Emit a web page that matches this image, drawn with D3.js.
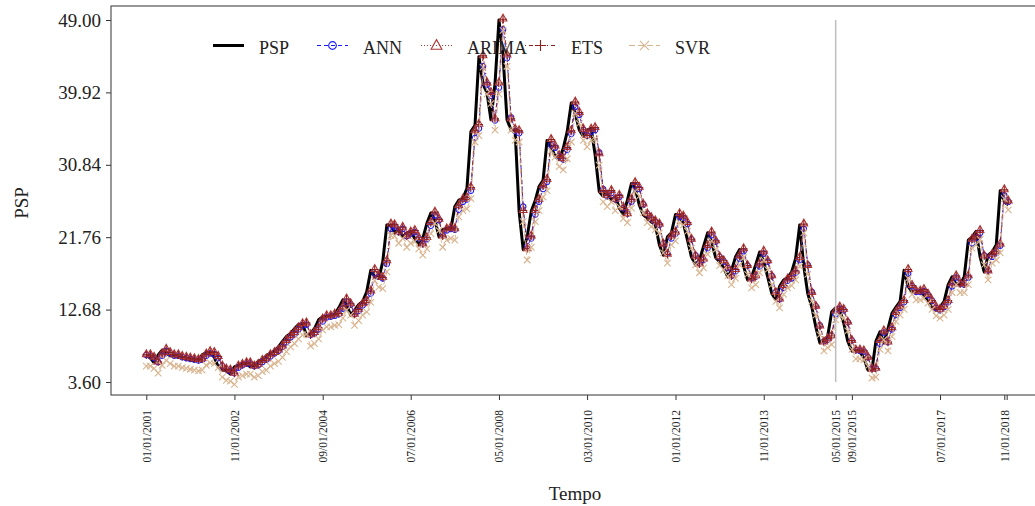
<!DOCTYPE html>
<html><head><meta charset="utf-8">
<script src="https://cdn.jsdelivr.net/npm/d3@7"></script>
<style>body{margin:0;background:#fff;} svg{display:block;}</style>
</head><body>
<script>
// ---------- DATA ----------
const startMonth = "2001-01";   // first monthly observation
const nMonths = 216;            // 01/2001 .. 12/2018

const PSP = [
6.9,6.6,6.0,7.0,7.6,7.2,6.9,6.9,6.7,6.6,6.5,6.4,
6.3,6.4,7.0,7.3,7.2,6.7,5.5,5.1,5.0,4.6,5.5,5.7,
5.9,5.9,5.5,5.7,6.2,6.4,6.9,7.2,7.5,8.0,8.7,9.3,
9.7,10.3,10.8,10.9,9.4,9.7,10.3,11.4,11.8,11.8,12.0,12.1,
12.9,13.9,13.3,12.0,12.6,13.3,13.7,14.9,17.6,16.8,16.6,18.7,
23.3,23.2,22.3,22.9,21.8,22.3,22.5,21.6,20.8,21.6,23.5,24.8,
23.9,21.8,22.7,22.9,22.7,25.6,26.4,26.6,27.9,35.0,35.8,44.4,
41.0,39.8,36.5,41.0,49.0,44.5,36.5,35.2,35.0,25.0,20.2,21.8,
25.0,26.4,28.1,28.9,33.9,33.1,31.9,31.5,32.9,35.0,38.6,37.3,
35.2,34.4,35.2,35.4,32.1,27.5,26.9,27.5,26.4,26.9,25.4,24.6,
26.4,28.5,27.9,25.8,24.6,24.1,23.7,23.3,20.8,19.5,21.8,22.3,
24.6,24.3,23.5,21.4,19.3,18.3,18.9,20.6,22.3,21.2,19.2,18.7,
17.9,16.8,17.6,19.3,20.2,18.1,16.4,16.8,18.3,19.9,18.7,16.8,
14.7,13.9,15.6,16.4,16.7,17.4,19.1,23.3,18.1,14.7,13.0,10.5,
8.5,8.9,9.3,12.4,12.9,12.6,11.0,8.7,7.5,7.5,7.4,6.6,
5.1,5.2,8.7,9.9,8.5,10.3,12.2,13.0,13.7,17.6,15.6,14.9,
14.9,15.1,14.5,13.7,12.9,12.6,13.0,13.7,15.8,16.8,15.8,15.8,
16.8,21.4,21.8,22.5,19.3,17.4,19.5,19.9,20.8,27.6,26.2,25.8];

const ANN = [
7.0,6.9,6.6,6.1,6.9,7.5,7.2,6.9,6.9,6.7,6.6,6.5,
6.4,6.3,6.4,6.9,7.2,7.1,6.6,5.6,5.2,5.0,4.7,5.4,
5.7,5.9,5.9,5.6,5.7,6.1,6.4,6.8,7.2,7.5,8.0,8.6,
9.2,9.6,10.2,10.7,10.8,9.5,9.7,10.2,11.2,11.7,11.8,11.9,
12.1,12.8,13.7,13.3,12.1,12.5,13.2,13.6,14.7,17.2,16.8,16.6,
18.4,22.8,23.1,22.4,22.8,21.9,22.2,22.4,21.6,20.9,21.5,23.2,
24.5,23.9,22.0,22.6,22.8,22.7,25.2,26.2,26.5,27.6,34.2,35.4,
43.2,40.9,39.5,36.4,40.5,47.8,44.2,36.8,35.1,34.8,25.6,20.6,
21.6,24.6,26.2,27.8,28.7,33.3,33.0,31.9,31.5,32.7,34.7,38.1,
37.1,35.2,34.5,35.0,35.2,32.4,27.8,26.9,27.3,26.5,26.8,25.4,
24.7,26.2,28.2,27.8,25.9,24.7,24.1,23.7,23.3,21.0,19.7,21.6,
22.2,24.3,24.2,23.4,21.5,19.5,18.5,18.9,20.4,22.0,21.2,19.3,
18.7,17.9,16.9,17.5,19.1,20.0,18.2,16.6,16.8,18.1,19.7,18.7,
16.9,14.9,14.0,15.4,16.3,16.6,17.3,18.9,22.8,18.3,14.9,13.1,
10.7,8.7,8.9,9.4,12.1,12.8,12.6,11.1,8.8,7.6,7.5,7.4,
6.7,5.3,5.3,8.4,9.8,8.6,10.2,12.0,12.9,13.6,17.2,15.6,
14.9,14.9,15.0,14.5,13.8,12.9,12.6,13.0,13.6,15.6,16.7,15.9,
15.8,16.7,21.0,21.7,22.3,19.5,17.6,19.3,19.8,20.7,27.0,26.2];

const ARIMA = [
7.1,7.1,6.8,6.2,7.2,7.8,7.4,7.1,7.1,6.9,6.8,6.7,
6.6,6.5,6.6,7.2,7.5,7.4,6.9,5.7,5.3,5.2,4.8,5.7,
5.9,6.1,6.1,5.7,5.9,6.4,6.6,7.1,7.4,7.7,8.2,8.9,
9.5,9.9,10.5,11.0,11.1,9.6,9.9,10.5,11.6,12.0,12.0,12.2,
12.3,13.1,14.1,13.5,12.2,12.8,13.5,13.9,15.1,17.8,17.0,16.8,
18.9,23.5,23.4,22.5,23.1,22.0,22.5,22.7,21.8,21.0,21.8,23.7,
25.0,24.1,22.0,22.9,23.1,22.9,25.8,26.6,26.8,28.1,35.2,36.0,
44.6,41.2,40.0,36.7,41.2,49.2,44.7,36.7,35.4,35.2,25.2,20.4,
22.0,25.2,26.6,28.3,29.1,34.1,33.3,32.1,31.7,33.1,35.2,38.8,
37.5,35.4,34.6,35.4,35.6,32.3,27.7,27.1,27.7,26.6,27.1,25.6,
24.8,26.6,28.7,28.1,26.0,24.8,24.3,23.9,23.5,21.0,19.7,22.0,
22.5,24.8,24.5,23.7,21.6,19.5,18.5,19.1,20.8,22.5,21.4,19.4,
18.9,18.1,17.0,17.8,19.5,20.4,18.3,16.6,17.0,18.5,20.1,18.9,
17.0,14.9,14.1,15.8,16.6,16.9,17.6,19.3,23.5,18.3,14.9,13.2,
10.7,8.7,9.1,9.5,12.6,13.1,12.8,11.2,8.9,7.7,7.7,7.6,
6.8,5.3,5.4,8.9,10.1,8.7,10.5,12.4,13.2,13.9,17.8,15.8,
15.1,15.1,15.3,14.7,13.9,13.1,12.8,13.2,13.9,16.0,17.0,16.0,
16.0,17.0,21.6,22.0,22.7,19.5,17.6,19.7,20.1,21.0,27.8,26.4];

const ETS = [
7.0,7.0,6.7,6.1,7.1,7.7,7.3,7.0,7.0,6.8,6.7,6.6,
6.5,6.4,6.5,7.1,7.4,7.3,6.8,5.6,5.2,5.1,4.7,5.6,
5.8,6.0,6.0,5.6,5.8,6.3,6.5,7.0,7.3,7.6,8.1,8.8,
9.4,9.8,10.4,10.9,11.0,9.5,9.8,10.4,11.5,11.9,11.9,12.1,
12.2,13.0,14.0,13.4,12.1,12.7,13.4,13.8,15.0,17.7,16.9,16.7,
18.8,23.4,23.3,22.4,23.0,21.9,22.4,22.6,21.7,20.9,21.7,23.6,
24.9,24.0,21.9,22.8,23.0,22.8,25.7,26.5,26.7,28.0,35.1,35.9,
44.5,41.1,39.9,36.6,41.1,49.1,44.6,36.6,35.3,35.1,25.1,20.3,
21.9,25.1,26.5,28.2,29.0,34.0,33.2,32.0,31.6,33.0,35.1,38.7,
37.4,35.3,34.5,35.3,35.5,32.2,27.6,27.0,27.6,26.5,27.0,25.5,
24.7,26.5,28.6,28.0,25.9,24.7,24.2,23.8,23.4,20.9,19.6,21.9,
22.4,24.7,24.4,23.6,21.5,19.4,18.4,19.0,20.7,22.4,21.3,19.3,
18.8,18.0,16.9,17.7,19.4,20.3,18.2,16.5,16.9,18.4,20.0,18.8,
16.9,14.8,14.0,15.7,16.5,16.8,17.5,19.2,23.4,18.2,14.8,13.1,
10.6,8.6,9.0,9.4,12.5,13.0,12.7,11.1,8.8,7.6,7.6,7.5,
6.7,5.2,5.3,8.8,10.0,8.6,10.4,12.3,13.1,13.8,17.7,15.7,
15.0,15.0,15.2,14.6,13.8,13.0,12.7,13.1,13.8,15.9,16.9,15.9,
15.9,16.9,21.5,21.9,22.6,19.4,17.5,19.6,20.0,20.9,27.7,26.3];

const SVR = [
5.6,5.6,5.3,4.7,5.7,6.3,5.9,5.6,5.6,5.4,5.3,5.2,
5.1,5.0,5.1,5.7,6.0,5.9,5.4,4.2,3.8,3.7,3.3,4.2,
4.4,4.6,4.6,4.2,4.4,4.9,5.1,5.6,5.9,6.2,6.7,7.4,
8.0,8.4,9.0,9.5,9.6,8.1,8.4,9.0,10.1,10.5,10.5,10.7,
10.8,11.6,12.6,12.0,10.7,11.3,12.0,12.4,13.6,16.3,15.5,15.3,
17.4,22.0,21.9,21.0,21.6,20.5,21.0,21.2,20.3,19.5,20.3,22.2,
23.5,22.6,20.5,21.4,21.6,21.4,24.3,25.1,25.3,26.6,33.7,34.5,
43.1,39.7,38.5,35.2,39.7,47.7,43.2,35.2,33.9,33.7,23.7,18.9,
20.5,23.7,25.1,26.8,27.6,32.6,31.8,30.6,30.2,31.6,33.7,37.3,
36.0,33.9,33.1,33.9,34.1,30.8,26.2,25.6,26.2,25.1,25.6,24.1,
23.6,25.4,27.5,26.9,24.8,23.6,23.1,22.7,22.3,19.8,18.5,20.8,
21.3,23.6,23.3,22.5,20.4,18.3,17.3,17.9,19.6,21.3,20.2,18.2,
17.7,16.9,15.8,16.6,18.3,19.2,17.1,15.4,15.8,17.3,18.9,17.7,
15.8,13.7,12.9,14.6,15.4,15.7,16.4,18.1,22.3,17.1,13.7,12.0,
9.5,7.5,7.9,8.3,11.4,11.9,11.6,10.0,7.7,6.5,6.5,6.4,
5.6,4.1,4.2,7.7,8.9,7.5,9.3,11.2,12.0,12.7,16.6,14.6,
13.9,13.9,14.1,13.5,12.7,11.9,11.6,12.0,12.7,14.8,15.8,14.8,
14.8,15.8,20.4,20.8,21.5,18.3,16.4,18.5,18.9,19.8,26.6,25.2];

const seriesNames = ["PSP", "ANN", "ARIMA", "ETS", "SVR"];
const yTicks = [3.60, 12.68, 21.76, 30.84, 39.92, 49.00];
const xTickLabels = ["01/01/2001","11/01/2002","09/01/2004","07/01/2006","05/01/2008",
  "03/01/2010","01/01/2012","11/01/2013","05/01/2015","09/01/2015","07/01/2017","11/01/2018"];
const extraTick = "11/19/2018";
const splitDate = "05/01/2015";
const xTitle = "Tempo", yTitle = "PSP";

// ---------- DRAW ----------
const W = 1035, H = 506;
const FONT = "'Liberation Serif','Times New Roman',serif";
const parse = d3.utcParse("%m/%d/%Y");
const start = d3.utcParse("%Y-%m")(startMonth);
const dates = d3.utcMonth.range(start, d3.utcMonth.offset(start, nMonths));

const x = d3.scaleUtc().domain([parse("01/01/2001"), parse("11/01/2018")]).range([146.3, 1004.3]);
const y = d3.scaleLinear().domain([3.6, 49]).range([382, 20]);

const svg = d3.select("body").append("svg").attr("width", W).attr("height", H)
  .style("font-family", FONT);

const panel = {l: 111, t: 6, b: 395, r: 1050};

// x axis
const fmt = d3.utcFormat("%m/%d/%Y");
const tickDates = xTickLabels.map(parse).concat([parse(extraTick)]);
const xAxis = d3.axisBottom(x).tickValues(tickDates).tickSize(5).tickPadding(3)
  .tickFormat(d => xTickLabels.includes(fmt(d)) ? fmt(d) : "");
const gx = svg.append("g").attr("transform", `translate(0,${panel.b})`).call(xAxis);
gx.select(".domain").remove();
gx.selectAll(".tick line").attr("stroke", "#333");
gx.selectAll(".tick text")
  .attr("fill", "#222").style("font-family", FONT).style("font-size", "11.5px")
  .attr("text-anchor", "end")
  .attr("transform", "translate(0,15) rotate(-90)")
  .attr("x", 0).attr("y", 0).attr("dy", "0.35em");

// y axis
const yAxis = d3.axisLeft(y).tickValues(yTicks).tickFormat(d3.format(".2f")).tickSize(5).tickPadding(5);
const gy = svg.append("g").attr("transform", `translate(${panel.l},0)`).call(yAxis);
gy.select(".domain").remove();
gy.selectAll(".tick line").attr("stroke", "#333");
gy.selectAll(".tick text").attr("fill", "#222").style("font-family", FONT).style("font-size", "19px");

// panel border
svg.append("rect").attr("x", panel.l).attr("y", panel.t)
  .attr("width", panel.r - panel.l).attr("height", panel.b - panel.t)
  .attr("fill", "none").attr("stroke", "#444").attr("stroke-width", 1.1);

// titles
svg.append("text").attr("x", 575).attr("y", 500).attr("text-anchor", "middle")
  .style("font-size", "19px").attr("fill", "#222").text(xTitle);
svg.append("text").attr("transform", "translate(28,203) rotate(-90)").attr("text-anchor", "middle")
  .style("font-size", "19px").attr("fill", "#222").text(yTitle);

// symbols
function symPath(kind, s) {
  const h = s / 2;
  if (kind === "circle") return `M${h},0A${h},${h} 0 1,1 ${-h},0A${h},${h} 0 1,1 ${h},0Z`;
  if (kind === "triangle") return `M0,${-s*0.6}L${s*0.55},${s*0.38}L${-s*0.55},${s*0.38}Z`;
  if (kind === "plus") return `M${-h},0H${h}M0,${-h}V${h}`;
  if (kind === "x") return `M${-h},${-h}L${h},${h}M${-h},${h}L${h},${-h}`;
  return "";
}

const series = [
  {name: seriesNames[0], values: PSP,   color: "#000000", width: 3,   dash: null,      sym: null},
  {name: seriesNames[1], values: ANN,   color: "#1a1aff", width: 0.9, dash: "4,3",     sym: "circle",   size: 5.5},
  {name: seriesNames[2], values: ARIMA, color: "#b03535", width: 0.9, dash: "1,2",     sym: "triangle", size: 7},
  {name: seriesNames[3], values: ETS,   color: "#8b1f1f", width: 0.9, dash: "1,3,4,3", sym: "plus",     size: 8},
  {name: seriesNames[4], values: SVR,   color: "#d9b48f", width: 0.9, dash: "6,3",     sym: "x",        size: 6.5}
];

const line = d3.line().x((d, i) => x(dates[i])).y(d => y(d));

series.forEach(s => {
  const g = svg.append("g");
  g.append("path").datum(s.values).attr("d", line)
    .attr("fill", "none").attr("stroke", s.color).attr("stroke-width", s.width)
    .attr("stroke-dasharray", s.dash).attr("stroke-linejoin", "round");
  if (s.sym) {
    g.selectAll("path.m").data(s.values).join("path").attr("class", "m")
      .attr("transform", (d, i) => `translate(${x(dates[i])},${y(d)})`)
      .attr("d", symPath(s.sym, s.size))
      .attr("fill", "none").attr("stroke", s.color).attr("stroke-width", 1.1);
  }
});

// split line
svg.append("line").attr("x1", x(parse(splitDate))).attr("x2", x(parse(splitDate)))
  .attr("y1", y(49)).attr("y2", y(3.6)).attr("stroke", "#bdbdbd").attr("stroke-width", 1.5);

// legend
const leg = svg.append("g");
series.forEach((s, i) => {
  const x0 = 213 + i * 104, yc = 45.5;
  leg.append("line").attr("x1", x0).attr("x2", x0 + 31).attr("y1", yc).attr("y2", yc)
    .attr("stroke", s.color).attr("stroke-width", s.sym ? 1 : 3).attr("stroke-dasharray", s.dash);
  if (s.sym) leg.append("path").attr("transform", `translate(${x0 + 15.5},${yc})`)
    .attr("d", symPath(s.sym, s.size * 1.4))
    .attr("fill", "none").attr("stroke", s.color).attr("stroke-width", 1.1);
  leg.append("text").attr("x", x0 + 46).attr("y", 54).style("font-size", "18px")
    .attr("fill", "#222").text(s.name);
});
</script>
</body></html>
